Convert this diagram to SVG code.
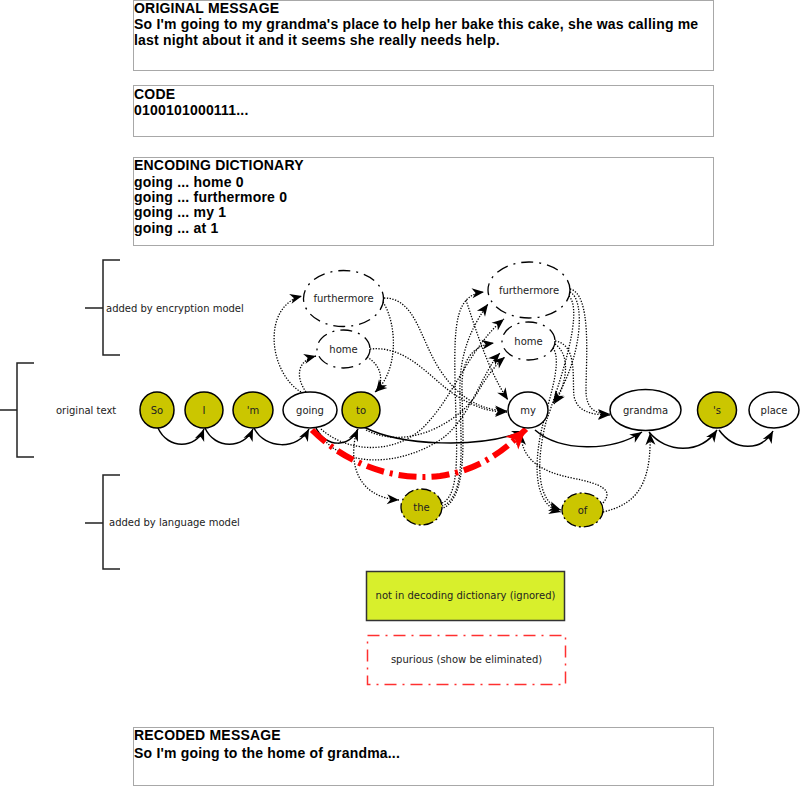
<svg xmlns="http://www.w3.org/2000/svg" width="800" height="787" viewBox="0 0 800 787">
<style>
.box{fill:#fff;stroke:#a8a8a8;stroke-width:1}
.bt{font-family:"Liberation Sans",Arial,sans-serif;font-weight:bold;font-size:14px;letter-spacing:0.2px;fill:#000}
.lb{font-family:"DejaVu Sans",Verdana,sans-serif;font-size:10px;fill:#222}
.nt{font-family:"DejaVu Sans",Verdana,sans-serif;font-size:10px;fill:#222;text-anchor:middle}
.br{fill:none;stroke:#222;stroke-width:1.5}
.ns{stroke:#000;stroke-width:1.5}
.wh{fill:#fff}
.ye{fill:#cbc600}
.dd{fill:#fff;stroke:#000;stroke-width:1.3;stroke-dasharray:12 6 2 6}
.lm{fill:#cbc600;stroke:#000;stroke-width:1.3;stroke-dasharray:10 3 2 3}
.sol{fill:none;stroke:#000;stroke-width:1.5;marker-end:url(#ah)}
.dot{fill:none;stroke:#000;stroke-width:1.3;stroke-dasharray:1.3 1.5;marker-end:url(#ah)}
.red{fill:none;stroke:#ff0000;stroke-width:6;stroke-dasharray:18 6 3 6;marker-end:url(#rah)}
</style>
<defs>
<marker id="ah" viewBox="-1 -6 14 12" refX="12" refY="0" markerWidth="14" markerHeight="12" markerUnits="userSpaceOnUse" orient="auto">
<path d="M0,-5 L12,0 L0,5 L3.5,0 Z" fill="#000"/>
</marker>
<marker id="rah" viewBox="-1 -10 23 20" refX="20" refY="0" markerWidth="23" markerHeight="20" markerUnits="userSpaceOnUse" orient="auto">
<path d="M0,-9 L20,0 L0,9 L5,0 Z" fill="#ff0000"/>
</marker>
</defs>
<rect width="800" height="787" fill="#fff"/>

<g id="box-original">
<rect class="box" x="133.5" y="0.5" width="580" height="70"/>
<text class="bt" x="134" y="13">ORIGINAL MESSAGE</text>
<text class="bt" x="134" y="29">So I'm going to my grandma's place to help her bake this cake, she was calling me</text>
<text class="bt" x="134" y="45">last night about it and it seems she really needs help.</text>
</g>
<g id="box-code">
<rect class="box" x="133.5" y="85.5" width="580" height="51"/>
<text class="bt" x="134" y="99">CODE</text>
<text class="bt" x="134" y="115">0100101000111...</text>
</g>
<g id="box-dict">
<rect class="box" x="133.5" y="157.5" width="580" height="88"/>
<text class="bt" x="134" y="170">ENCODING DICTIONARY</text>
<text class="bt" x="134" y="187">going ... home 0</text>
<text class="bt" x="134" y="202">going ... furthermore 0</text>
<text class="bt" x="134" y="217">going ... my 1</text>
<text class="bt" x="134" y="233">going ... at 1</text>
</g>
<g id="box-recoded">
<rect class="box" x="133.5" y="727.5" width="580" height="58"/>
<text class="bt" x="134" y="740">RECODED MESSAGE</text>
<text class="bt" x="134" y="758">So I'm going to the home of grandma...</text>
</g>

<g id="bracket-encryption">
<path class="br" d="M120,260 H103 V355 H120 M85,308 H103"/>
<text class="lb" x="106" y="312">added by encryption model</text>
</g>
<g id="bracket-original">
<path class="br" d="M34,363 H17 V457 H34 M0,410 H17"/>
<text class="lb" x="56" y="414">original text</text>
</g>
<g id="bracket-language">
<path class="br" d="M120,475 H103 V569 H120 M85,523 H103"/>
<text class="lb" x="109" y="526">added by language model</text>
</g>

<g id="connectors">
<path class="sol" d="M158,428 C168,450 196,449 204,429"/>
<path class="sol" d="M205,428 C215,450 244,449 253,429"/>
<path class="sol" d="M254,428 C265,450 298,450 309,429"/>
<path class="sol" d="M316,428 C326,448 350,448 358,429"/>
<path class="sol" d="M364,427 C400,446 480,449 524,431"/>
<path class="sol" d="M535,430 C560,452 612,452 642,432"/>
<path class="sol" d="M649,432 C666,453 700,455 717,430"/>
<path class="sol" d="M719,430 C735,452 762,451 773,431"/>

<path class="dot" d="M301,392 C268,372 262,306 302,296"/>
<path class="dot" d="M306,392 C296,378 296,361 316,356"/>
<path class="dot" d="M383,302 C398,326 398,372 375,392"/>
<path class="dot" d="M367,357 C382,366 384,381 376,392"/>
<path class="dot" d="M384,298 C416,298 420,340 440,370 C460,400 482,410 507,411"/>
<path class="dot" d="M370,349 C410,345 432,382 460,398 C478,408 490,412 507,412"/>

<path class="dot" d="M442,503 C462,495 456,440 455,380 C454,322 456,295 484,292"/>
<path class="dot" d="M442,506 C466,498 461,445 460,400 C459,370 462,340 488,304"/>
<path class="dot" d="M441,509 C468,500 463,440 462,390 C461,360 472,346 494,343"/>
<path class="dot" d="M321,429 C350,455 402,455 430,420 C455,392 472,345 504,319"/>
<path class="dot" d="M318,431 C340,470 400,466 440,440 C470,420 482,372 500,353"/>
<path class="dot" d="M366,430 C410,452 460,420 476,395 C486,378 494,366 505,357"/>
<path class="dot" d="M357,430 C348,462 356,497 399,500"/>

<path class="dot" d="M570,292 C586,300 582,360 553,403"/>
<path class="dot" d="M555,344 C572,356 566,386 554,404"/>
<path class="dot" d="M570,289 C592,294 586,360 586,390 C586,410 596,414 610,414"/>
<path class="dot" d="M555,341 C578,344 572,380 574,396 C577,412 592,415 610,415"/>
<path class="dot" d="M569,296 C584,312 560,382 546,422 C536,462 536,502 561,510"/>
<path class="dot" d="M553,348 C563,362 548,402 541,432 C533,472 536,506 561,512"/>
<path class="dot" d="M466,300 C476,330 488,370 508,400"/>
<path class="dot" d="M603,503 C614,490 602,484 572,478 C542,472 521,460 521,433"/>
<path class="dot" d="M603,512 C632,505 652,490 650,433"/>

<path class="red" d="M312,430 C350,468 400,481 440,476 C480,470 505,450 526,429"/>
</g>

<g id="node-so"><ellipse class="ye ns" cx="157" cy="410" rx="17" ry="18"/><text class="nt" x="157" y="414">So</text></g>
<g id="node-i"><ellipse class="ye ns" cx="204" cy="410" rx="19" ry="18"/><text class="nt" x="204" y="414">I</text></g>
<g id="node-m"><ellipse class="ye ns" cx="253" cy="410" rx="20" ry="18"/><text class="nt" x="253" y="414">'m</text></g>
<g id="node-going"><ellipse class="wh ns" cx="310" cy="410" rx="27" ry="18"/><text class="nt" x="310" y="414">going</text></g>
<g id="node-to"><ellipse class="ye ns" cx="361" cy="410" rx="19" ry="18"/><text class="nt" x="361" y="414">to</text></g>
<g id="node-my"><ellipse class="wh ns" cx="528" cy="410" rx="20" ry="18"/><text class="nt" x="528" y="414">my</text></g>
<g id="node-grandma"><ellipse class="wh ns" cx="645.5" cy="410" rx="35.5" ry="20.5"/><text class="nt" x="645.5" y="414">grandma</text></g>
<g id="node-s"><ellipse class="ye ns" cx="717" cy="410" rx="19.5" ry="18"/><text class="nt" x="717" y="414">'s</text></g>
<g id="node-place"><ellipse class="wh ns" cx="774" cy="410" rx="25" ry="18"/><text class="nt" x="774" y="414">place</text></g>

<g id="node-furthermore-1"><ellipse class="dd" cx="343.5" cy="298.5" rx="40" ry="28"/><text class="nt" x="343.5" y="302">furthermore</text></g>
<g id="node-home-1"><ellipse class="dd" cx="343.5" cy="349" rx="26.5" ry="19"/><text class="nt" x="343.5" y="352.5">home</text></g>
<g id="node-furthermore-2"><ellipse class="dd" cx="529" cy="290" rx="41" ry="28"/><text class="nt" x="529" y="293.5">furthermore</text></g>
<g id="node-home-2"><ellipse class="dd" cx="528.5" cy="341" rx="26.5" ry="19"/><text class="nt" x="528.5" y="344.5">home</text></g>

<g id="node-the"><ellipse class="lm" cx="421.5" cy="507" rx="20.5" ry="18"/><text class="nt" x="421.5" y="510.5">the</text></g>
<g id="node-of"><ellipse class="lm" cx="582.5" cy="510" rx="20.5" ry="17"/><text class="nt" x="582.5" y="513.5">of</text></g>

<g id="legend-ignored">
<rect x="366.5" y="571.5" width="198" height="49" fill="#d8ef2c" stroke="#333" stroke-width="1.5"/>
<text class="nt" x="465.5" y="599">not in decoding dictionary (ignored)</text>
</g>
<g id="legend-spurious">
<rect x="367.5" y="635.5" width="198" height="49" fill="none" stroke="#ff3030" stroke-width="1.5" stroke-dasharray="12 6 2 6"/>
<text class="nt" x="466.5" y="663">spurious (show be eliminated)</text>
</g>
</svg>
